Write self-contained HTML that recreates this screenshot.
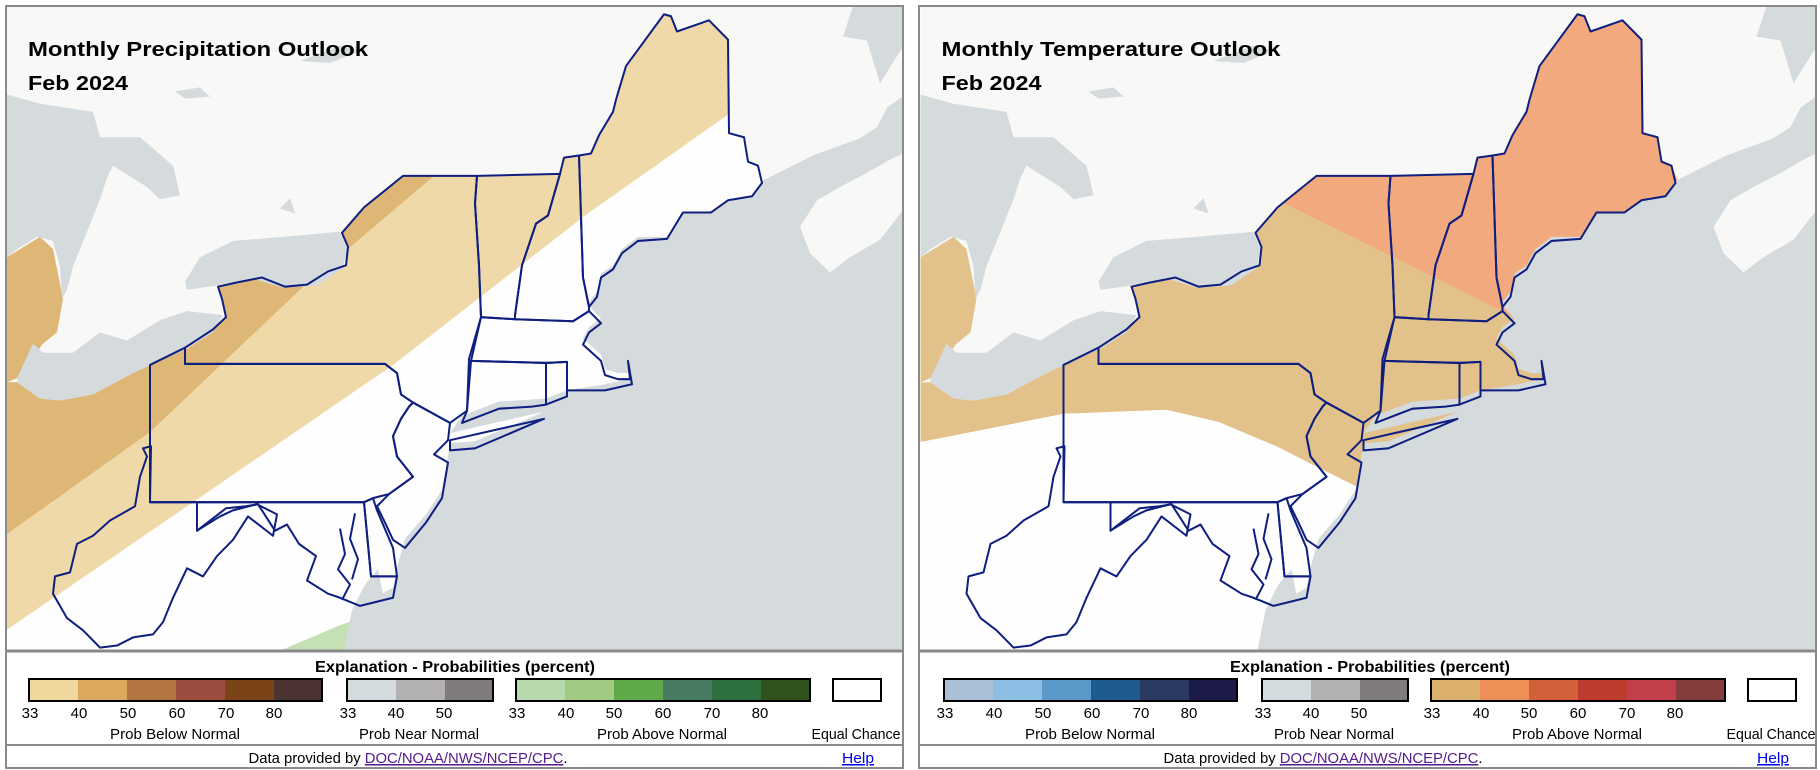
<!DOCTYPE html>
<html><head><meta charset="utf-8"><style>
html,body{margin:0;padding:0;background:#fff;}
svg{display:block;}
.t{font-family:"Liberation Sans",sans-serif;font-weight:bold;fill:#000;}
.n{font-family:"Liberation Sans Narrow","Liberation Sans",sans-serif;font-size:15px;fill:#000;}
.h{font-family:"Liberation Sans Narrow","Liberation Sans",sans-serif;font-size:16px;font-weight:bold;fill:#000;}
</style></head><body>
<svg width="1820" height="770" viewBox="0 0 1820 770" xmlns="http://www.w3.org/2000/svg" xmlns:xlink="http://www.w3.org/1999/xlink">
<defs>
<clipPath id="mapclip"><rect x="7" y="7" width="895" height="643"/></clipPath>
<path id="usland" d="M729,39 L709,20 L677,31 L671,16 L664,14 L626,65 L616,98 L613,110 L599,133 L591,151 L579,153 L564,155 L560,171 L477,173 L403,173 L364,204 L342,229 L348,243 L346,261 L328,267 L307,280 L285,282 L262,273 L236,278 L218,282 L222,294 L226,312 L213,324 L185,342 L133,367 L93,388 L60,394 L40,392 L17,376 L6,376 L6,660 L910,660 L910,143 L840,160 L800,170 L767,184 L758,163 L748,159 L744,135 L729,131 Z M7,152 L15,152 L25,192 L15,228 L7,237 Z M7,253 L40,233 L53,245 L63,294 L57,327 L43,338 L17,372 L7,376 Z"/>
<clipPath id="usclip"><use xlink:href="#usland"/></clipPath>
<g id="water" fill="#d5dadd">
 <path d="M7,93 L40,102 L93,110 L100,135 L140,135 L173,163 L180,192 L160,196 L147,184 L113,163 L107,175 L100,196 L87,228 L73,262 L67,285 L62,294 L60,262 L53,237 L37,233 L17,245 L7,253 Z"/>
 <path d="M17,376 L40,392 L60,394 L93,388 L133,367 L187,343 L213,327 L223,310 L187,306 L160,315 L127,335 L100,327 L73,347 L43,347 L33,338 L17,372 Z"/>
 <path d="M185,277 L200,253 L233,237 L283,233 L340,228 L347,245 L343,264 L317,281 L283,283 L253,274 L217,281 L187,285 Z"/>
 <path d="M300,60 L340,45 L360,50 L330,62 Z M175,90 L200,86 L210,95 L185,97 Z M280,205 L290,195 L295,210 Z"/>
 <path d="M853,6 L905,6 L905,43 L890,66 L880,82 L867,40 L843,36 Z"/>
 <path d="M762,178 L813,153 L860,136 L877,125 L887,106 L905,93 L905,660 L345,660 L355,600 L393,578 L397,558 L405,530 L426,506 L442,482 L448,448 L450,436 L475,434 L544,405 L450,426 L462,409 L499,395 L532,393 L546,392 L567,384 L605,378 L632,372 L630,367 L618,367 L605,363 L601,349 L583,333 L589,322 L601,313 L589,301 L589,297 L597,287 L601,269 L613,261 L622,245 L638,233 L667,233 L683,209 L711,209 L728,197 L752,193 Z"/>
 <path d="M340,660 L352,600 L365,575 L378,560 L386,600 L382,660 Z"/>
</g>
<path id="ns" fill="#f8f8f7" d="M800,223 L817,197 L840,184 L867,170 L890,157 L905,150 L905,204 L880,236 L850,253 L830,268 L810,249 Z"/>
<g id="states" fill="none" stroke="#0e1f80" stroke-width="2" stroke-linejoin="round">
 <path d="M579,153 L591,151 L599,133 L613,110 L616,98 L626,65 L664,14 L671,16 L677,31 L709,20 L728,39 L729,131 L744,135 L748,159 L758,163 L762,180 L752,193 L728,197 L711,209 L683,209 L667,235 L638,237 L622,249 L613,265 L601,273 L597,292 L589,302 L583,273 Z"/>
 <path d="M564,155 L579,153 L583,273 L589,302 L589,306 L573,316 L515,314 L515,310 L522,261 L536,220 L548,212 L560,171 Z"/>
 <path d="M477,173 L560,171 L548,212 L536,220 L522,261 L515,310 L515,314 L481,312 L479,261 L475,200 Z"/>
 <path d="M403,173 L477,173 L475,200 L479,261 L481,312 L469,353 L467,404 L450,416 L413,396 L401,388 L397,367 L385,358 L185,358 L185,342 L213,324 L226,312 L222,294 L218,282 L236,278 L262,273 L285,282 L307,280 L328,267 L346,261 L348,243 L342,229 L364,204 Z"/>
 <path d="M450,433 L544,412 L475,441 L450,443 Z"/>
 <path d="M481,312 L515,314 L573,316 L589,306 L601,318 L589,327 L583,339 L601,355 L605,369 L618,373 L630,373 L628,355 L632,378 L605,384 L567,384 L567,356 L546,357 L471,355 Z"/>
 <path d="M471,355 L546,357 L546,398 L532,400 L499,402 L462,416 L467,404 Z"/>
 <path d="M546,357 L567,356 L567,390 L546,398 Z"/>
 <path d="M150,359 L185,342 L185,358 L385,358 L397,367 L401,388 L413,396 L409,400 L401,412 L393,429 L397,449 L413,469 L389,486 L373,490 L364,494 L150,494 Z"/>
 <path d="M413,396 L450,416 L448,433 L434,447 L448,455 L442,490 L426,514 L405,539 L393,531 L385,514 L377,498 L389,486 L413,469 L397,449 L393,429 L401,412 L409,400 Z"/>
 <path d="M364,494 L371,567 L397,567 L393,539 L377,502 L373,490 Z"/>
 <path d="M197,494 L364,494 L371,567 L397,567 L393,588 L360,596 L340,588 L328,584 L307,571 L316,547 L299,535 L287,516 L275,522 L258,496 L246,498 L226,500 L197,522 Z"/>
 <path d="M151,439 L150,494 L197,494 L197,522 L220,508 L233,502 L257,496 L277,506 L273,527 L248,508 L233,531 L217,547 L203,567 L187,559 L173,588 L163,612 L153,624 L133,627 L117,635 L100,637 L83,620 L67,608 L53,584 L55,567 L70,563 L77,535 L93,527 L110,512 L135,498 L140,469 L147,449 L143,441 Z"/>
 <path d="M340,520 L345,545 L338,560 L350,575 L342,590 M355,505 L350,530 L358,550 L352,570"/>
</g>
</defs>

<!-- LEFT PANEL -->
<g>
 <g clip-path="url(#mapclip)">
  <rect x="6" y="6" width="898" height="646" fill="#f8f8f7"/>
  <g transform="scale(1,1.0166)">
   <use xlink:href="#usland" fill="#fefefe"/>
   <g clip-path="url(#usclip)">
    <path d="M729,112 L585,212 L393,359 L193,494 L6,620 L0,0 L910,0 L910,60 Z" fill="#f0d9a9"/>
    <path d="M434,173 L300,285 L150,425 L6,526 L0,0 L520,0 Z" fill="#deb777"/>
    <path d="M280,640 L340,615 L398,595 L403,610 L392,640 Z" fill="#c6e0b5"/>
   </g>
   <use xlink:href="#water"/>
   <use xlink:href="#ns"/>
   <use xlink:href="#states"/>
  </g>
 </g>
 <text class="t" x="28" y="56" font-size="20" textLength="340" lengthAdjust="spacingAndGlyphs">Monthly Precipitation Outlook</text>
 <text class="t" x="28" y="90" font-size="20" textLength="100" lengthAdjust="spacingAndGlyphs">Feb 2024</text>
</g>

<!-- RIGHT PANEL -->
<g transform="translate(913.5,0)">
 <g clip-path="url(#mapclip)">
  <rect x="6" y="6" width="898" height="646" fill="#f8f8f7"/>
  <g transform="scale(1,1.0166)">
   <use xlink:href="#usland" fill="#fefefe"/>
   <g clip-path="url(#usclip)">
    <path d="M6,435 L150,407 L253,403 L305,415 L363,439 L409,462 L446,480 L910,480 L910,0 L0,0 Z" fill="#e2c28a"/>
    <path d="M250,141 L373,201 L591,307 L910,462 L910,0 L250,0 Z" fill="#f2a97e"/>
   </g>
   <use xlink:href="#water"/>
   <use xlink:href="#ns"/>
   <use xlink:href="#states"/>
  </g>
 </g>
 <text class="t" x="28" y="56" font-size="20" textLength="339" lengthAdjust="spacingAndGlyphs">Monthly Temperature Outlook</text>
 <text class="t" x="28" y="90" font-size="20" textLength="100" lengthAdjust="spacingAndGlyphs">Feb 2024</text>
</g>

<!-- Frames & legends -->
<g fill="none" stroke="#8a8a8a">
 <rect x="6" y="6" width="897" height="762" stroke-width="2"/>
 <rect x="919" y="6" width="897" height="762" stroke-width="2"/>
 <line x1="6" y1="651" x2="903" y2="651" stroke-width="3"/>
 <line x1="919" y1="651" x2="1816" y2="651" stroke-width="3"/>
 <line x1="6" y1="745" x2="903" y2="745" stroke-width="2"/>
 <line x1="919" y1="745" x2="1816" y2="745" stroke-width="2"/>
</g>
<rect x="7" y="653" width="895" height="91" fill="#fff"/>
<rect x="7" y="746" width="895" height="21" fill="#fff"/>
<rect x="920" y="653" width="895" height="91" fill="#fff"/>
<rect x="920" y="746" width="895" height="21" fill="#fff"/>

<!-- left legend -->
<g>
 <text class="h" x="455" y="672" text-anchor="middle" textLength="280" lengthAdjust="spacingAndGlyphs">Explanation - Probabilities (percent)</text>
 <g stroke="none">
  <rect x="29" y="679" width="49" height="22" fill="#f0d79e"/><rect x="78" y="679" width="49" height="22" fill="#dba95c"/><rect x="127" y="679" width="49" height="22" fill="#b47540"/><rect x="176" y="679" width="49" height="22" fill="#9d4d40"/><rect x="225" y="679" width="49" height="22" fill="#7a4418"/><rect x="274" y="679" width="48" height="22" fill="#4a3330"/>
  <rect x="347" y="679" width="49" height="22" fill="#d5dcdf"/><rect x="396" y="679" width="49" height="22" fill="#b2b0b1"/><rect x="445" y="679" width="48" height="22" fill="#807b7c"/>
  <rect x="516" y="679" width="49" height="22" fill="#b8d8ad"/><rect x="565" y="679" width="49" height="22" fill="#a1cb85"/><rect x="614" y="679" width="49" height="22" fill="#5fa948"/><rect x="663" y="679" width="49" height="22" fill="#477c63"/><rect x="712" y="679" width="49" height="22" fill="#2e6f40"/><rect x="761" y="679" width="49" height="22" fill="#31521d"/>
 </g>
 <g fill="none" stroke="#000" stroke-width="2">
  <rect x="29" y="679" width="293" height="22"/><rect x="347" y="679" width="146" height="22"/><rect x="516" y="679" width="294" height="22"/><rect x="833" y="679" width="48" height="22"/>
 </g>
 <g class="n" text-anchor="middle">
  <text x="30" y="718">33</text><text x="79" y="718">40</text><text x="128" y="718">50</text><text x="177" y="718">60</text><text x="226" y="718">70</text><text x="274" y="718">80</text>
  <text x="348" y="718">33</text><text x="396" y="718">40</text><text x="444" y="718">50</text>
  <text x="517" y="718">33</text><text x="566" y="718">40</text><text x="614" y="718">50</text><text x="663" y="718">60</text><text x="712" y="718">70</text><text x="760" y="718">80</text>
  <text x="175" y="739" textLength="130" lengthAdjust="spacingAndGlyphs">Prob Below Normal</text><text x="419" y="739" textLength="120" lengthAdjust="spacingAndGlyphs">Prob Near Normal</text><text x="662" y="739" textLength="130" lengthAdjust="spacingAndGlyphs">Prob Above Normal</text><text x="856" y="739" textLength="89" lengthAdjust="spacingAndGlyphs">Equal Chance</text>
  <text x="408" y="763" textLength="319" lengthAdjust="spacingAndGlyphs">Data provided by <tspan fill="#551a8b" text-decoration="underline">DOC/NOAA/NWS/NCEP/CPC</tspan>.</text>
  <text x="858" y="763" fill="#0000ee" text-decoration="underline" textLength="32" lengthAdjust="spacingAndGlyphs">Help</text>
 </g>
</g>

<!-- right legend -->
<g transform="translate(915,0)">
 <text class="h" x="455" y="672" text-anchor="middle" textLength="280" lengthAdjust="spacingAndGlyphs">Explanation - Probabilities (percent)</text>
 <g stroke="none">
  <rect x="29" y="679" width="49" height="22" fill="#a8bfd6"/><rect x="78" y="679" width="49" height="22" fill="#8cbde3"/><rect x="127" y="679" width="49" height="22" fill="#5899c8"/><rect x="176" y="679" width="49" height="22" fill="#1d5b91"/><rect x="225" y="679" width="49" height="22" fill="#2b3a63"/><rect x="274" y="679" width="48" height="22" fill="#1c1a48"/>
  <rect x="347" y="679" width="49" height="22" fill="#d5dcdf"/><rect x="396" y="679" width="49" height="22" fill="#b2b0b1"/><rect x="445" y="679" width="48" height="22" fill="#807b7c"/>
  <rect x="516" y="679" width="49" height="22" fill="#dbb06b"/><rect x="565" y="679" width="49" height="22" fill="#ef8f58"/><rect x="614" y="679" width="49" height="22" fill="#d2603a"/><rect x="663" y="679" width="49" height="22" fill="#bc3a2e"/><rect x="712" y="679" width="49" height="22" fill="#c2404b"/><rect x="761" y="679" width="49" height="22" fill="#843c3c"/>
 </g>
 <g fill="none" stroke="#000" stroke-width="2">
  <rect x="29" y="679" width="293" height="22"/><rect x="347" y="679" width="146" height="22"/><rect x="516" y="679" width="294" height="22"/><rect x="833" y="679" width="48" height="22"/>
 </g>
 <g class="n" text-anchor="middle">
  <text x="30" y="718">33</text><text x="79" y="718">40</text><text x="128" y="718">50</text><text x="177" y="718">60</text><text x="226" y="718">70</text><text x="274" y="718">80</text>
  <text x="348" y="718">33</text><text x="396" y="718">40</text><text x="444" y="718">50</text>
  <text x="517" y="718">33</text><text x="566" y="718">40</text><text x="614" y="718">50</text><text x="663" y="718">60</text><text x="712" y="718">70</text><text x="760" y="718">80</text>
  <text x="175" y="739" textLength="130" lengthAdjust="spacingAndGlyphs">Prob Below Normal</text><text x="419" y="739" textLength="120" lengthAdjust="spacingAndGlyphs">Prob Near Normal</text><text x="662" y="739" textLength="130" lengthAdjust="spacingAndGlyphs">Prob Above Normal</text><text x="856" y="739" textLength="89" lengthAdjust="spacingAndGlyphs">Equal Chance</text>
  <text x="408" y="763" textLength="319" lengthAdjust="spacingAndGlyphs">Data provided by <tspan fill="#551a8b" text-decoration="underline">DOC/NOAA/NWS/NCEP/CPC</tspan>.</text>
  <text x="858" y="763" fill="#0000ee" text-decoration="underline" textLength="32" lengthAdjust="spacingAndGlyphs">Help</text>
 </g>
</g>
</svg>
</body></html>
